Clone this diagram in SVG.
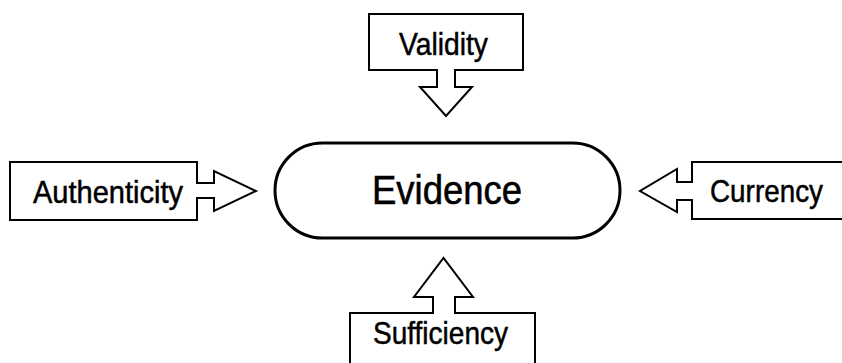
<svg xmlns="http://www.w3.org/2000/svg" width="842" height="363" viewBox="0 0 842 363">
<style>
.blk{fill:#fff;stroke:#000;stroke-width:2;stroke-linejoin:miter}
.lbl{font-family:"Liberation Sans",Arial,sans-serif;font-size:32px;fill:#000;stroke:#000;stroke-width:0.5;text-anchor:middle}
.main{font-size:41px;stroke-width:0.6}
</style>
<rect width="842" height="363" fill="#fff"/>
<g id="evidence">
<rect x="275" y="143" width="345" height="95" rx="47.5" ry="47.5" fill="#fff" stroke="#000" stroke-width="3"/>
<text class="lbl main" x="447" y="204" textLength="150" lengthAdjust="spacingAndGlyphs">Evidence</text>
</g>
<g id="connectors">
</g>
<g id="validity">
<path class="blk" d="M369,14 H523 V70 H455 V87 H472 L446,116 L420,87 H437 V70 H369 Z"/>
<text class="lbl" x="443.5" y="55" textLength="89" lengthAdjust="spacingAndGlyphs">Validity</text>
</g>
<g id="authenticity">
<path class="blk" d="M10,162 H197 V183 H214 V171 L256,191 L214,211 V198 H197 V220 H10 Z"/>
<text class="lbl" x="108" y="203" textLength="150" lengthAdjust="spacingAndGlyphs">Authenticity</text>
</g>
<g id="currency">
<path class="blk" d="M692,162 H850 V219 H692 V200 H677 V212 L640,191 L677,169 V182 H692 Z"/>
<text class="lbl" x="766.5" y="202" textLength="113" lengthAdjust="spacingAndGlyphs">Currency</text>
</g>
<g id="sufficiency">
<path class="blk" d="M350,370 V313 H433 V297 H414 L443.5,258 L473,297 H455 V313 H535 V370 Z"/>
<text class="lbl" x="440.5" y="344" textLength="135" lengthAdjust="spacingAndGlyphs">Sufficiency</text>
</g>
</svg>
